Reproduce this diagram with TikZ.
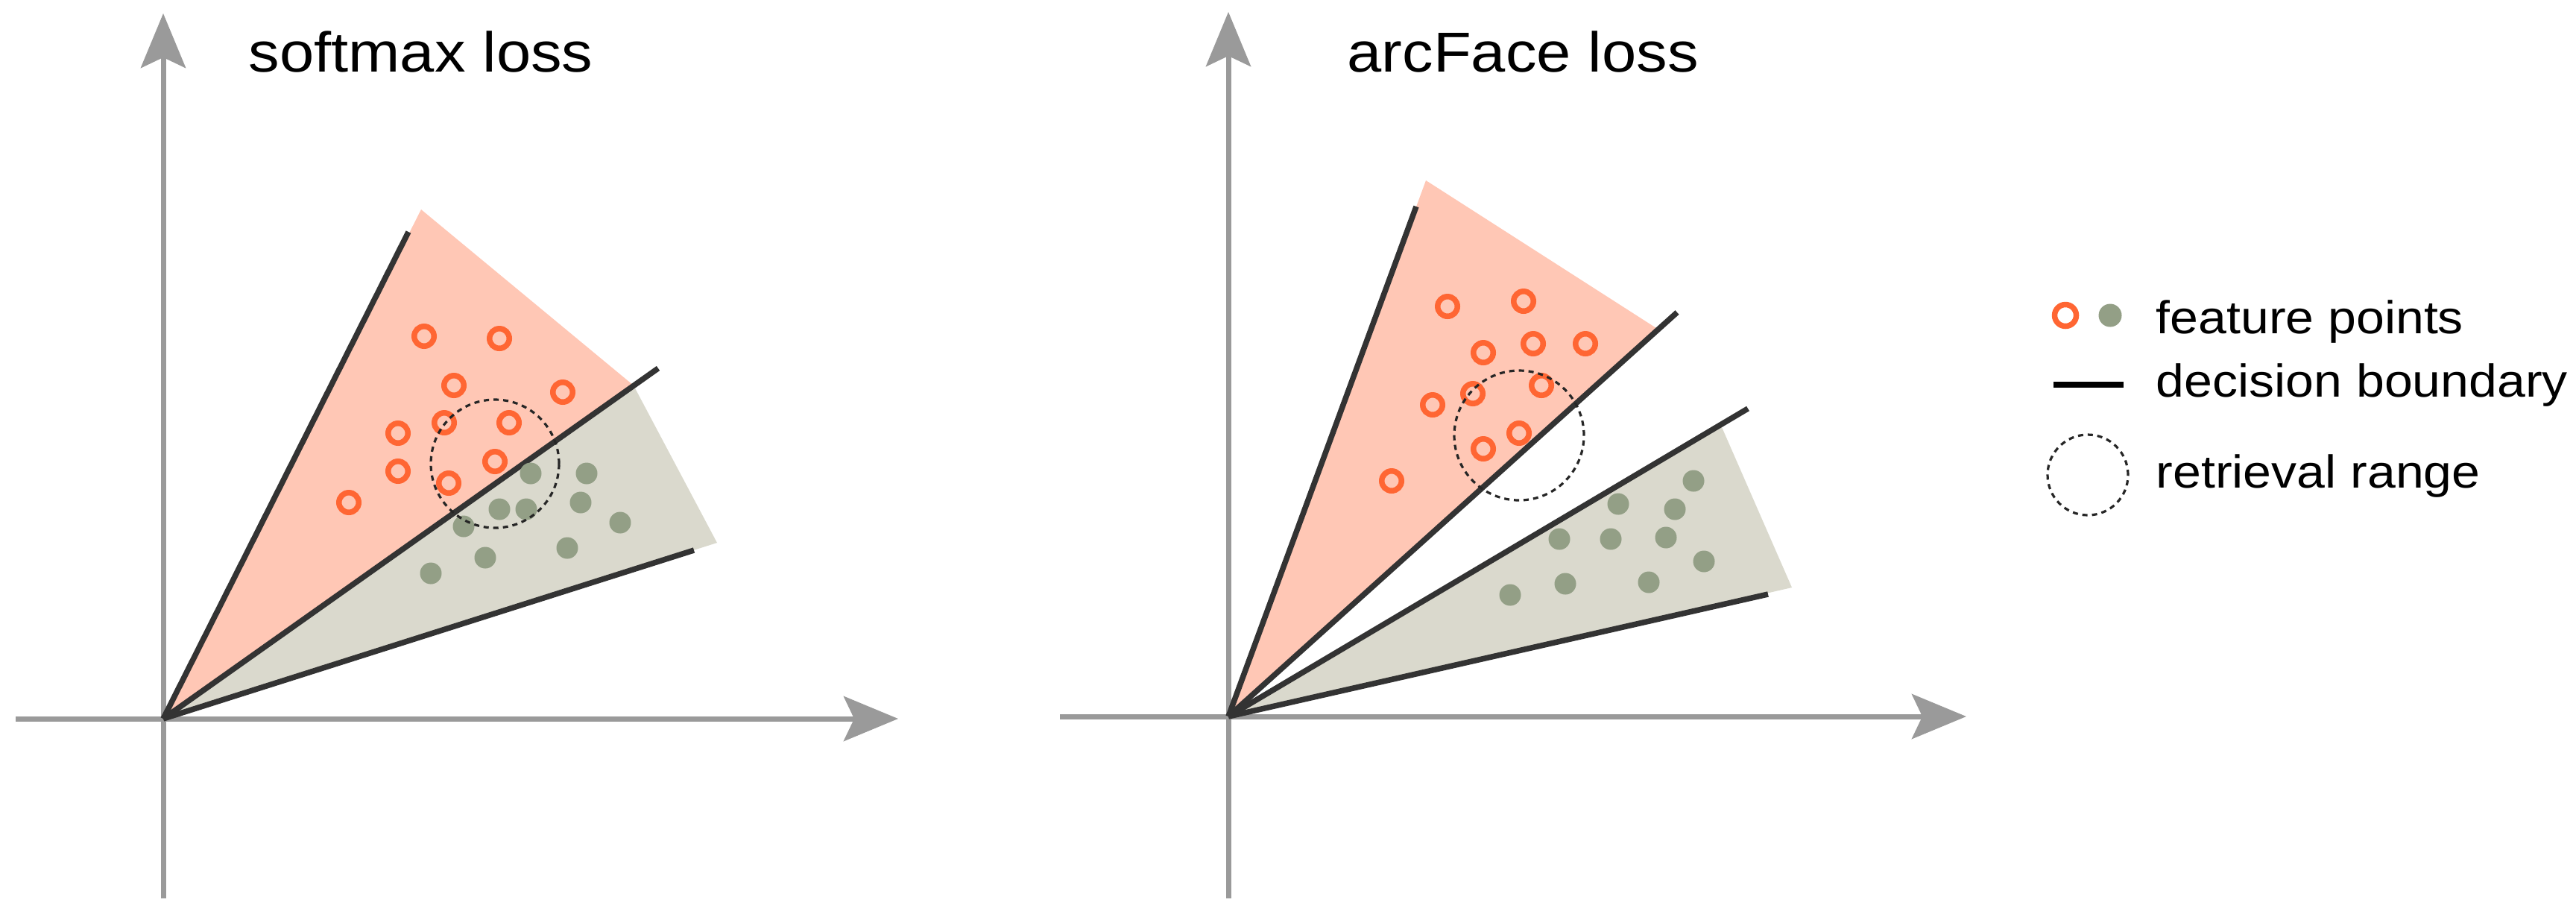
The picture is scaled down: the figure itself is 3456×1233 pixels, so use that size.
\documentclass[tikz,border=0pt]{standalone}
\usepackage{fontspec}
\newfontfamily\labfont{Liberation Sans}[FakeStretch=1.1]
\usetikzlibrary{arrows.meta}
\definecolor{pinkfill}{HTML}{FFC7B5}
\definecolor{grayfill}{HTML}{DAD9CD}
\definecolor{ringcol}{HTML}{FF6633}
\definecolor{dotcol}{HTML}{939F86}
\definecolor{bndcol}{HTML}{333333}
\definecolor{axiscol}{HTML}{9A9A9A}
\tikzset{
  axisline/.style={draw=axiscol, line width=0.7mm, -{Stealth[length=7.3mm, width=6mm, inset=1.4mm]}},
  bnd/.style={draw=bndcol, line width=0.75mm},
  ring/.style={circle, draw=ringcol, line width=0.75mm, minimum size=2.65mm, inner sep=0pt},
  gdot/.style={circle, fill=dotcol, minimum size=2.9mm, inner sep=0pt},
  rangecirc/.style={circle, draw=black!85, line width=0.32mm, dash pattern=on 0.7mm off 0.6mm, inner sep=0pt},
  titletext/.style={inner sep=0pt, anchor=base west, font=\labfont\fontsize{21.5}{26}\selectfont},
  legtext/.style={inner sep=0pt, anchor=base west, font=\labfont\fontsize{17.6}{21}\selectfont},
}
\begin{document}
\begin{tikzpicture}[x=0.1mm, y=-0.1mm]
\useasboundingbox (0,0) rectangle (3456,1233);
% ================= left panel =================
\coordinate (O1) at (219,964);
\coordinate (Y1t) at (219,18);
\coordinate (Y1b) at (219,1205);
\coordinate (X1l) at (21,964);
\coordinate (X1r) at (1205,964);
\coordinate (L1a) at (548,311);
\coordinate (L1b) at (883,494);
\coordinate (L1c) at (931,738);
\coordinate (P1t) at (565,281);
\coordinate (P1r) at (850,517);
\coordinate (G1r) at (962,728);
\draw[axisline] (Y1b) -- (Y1t);
\draw[axisline] (X1l) -- (X1r);
\fill[pinkfill] (O1) -- (P1t) -- (P1r) -- cycle;
\fill[grayfill] (O1) -- (P1r) -- (G1r) -- cycle;
\draw[bnd] (O1) -- (L1a);
\draw[bnd] (O1) -- (L1b);
\draw[bnd] (O1) -- (L1c);
\node[titletext] (t1) at (333,96) {softmax loss};
% orange feature points
\node[ring] (a1) at (569,451) {};
\node[ring] (a2) at (670,454) {};
\node[ring] (a3) at (609,517) {};
\node[ring] (a4) at (755,526) {};
\node[ring] (a5) at (534,581) {};
\node[ring] (a6) at (596,567) {};
\node[ring] (a7) at (683,567) {};
\node[ring] (a8) at (534,632) {};
\node[ring] (a9) at (664,619) {};
\node[ring] (a10) at (602,648) {};
\node[ring] (a11) at (468,674) {};
% gray feature points
\node[gdot] (b1) at (712,635) {};
\node[gdot] (b2) at (787,635) {};
\node[gdot] (b3) at (670,683) {};
\node[gdot] (b4) at (706,683) {};
\node[gdot] (b5) at (779,674) {};
\node[gdot] (b6) at (832,701) {};
\node[gdot] (b7) at (622,706) {};
\node[gdot] (b8) at (651,748) {};
\node[gdot] (b9) at (761,735) {};
\node[gdot] (b10) at (578,769) {};
\node[rangecirc, minimum size=17.2mm] (r1) at (664,622) {};
% ================= right panel =================
\coordinate (O2) at (1648,961);
\coordinate (Y2t) at (1648,16);
\coordinate (Y2b) at (1648,1205);
\coordinate (X2l) at (1422,961);
\coordinate (X2r) at (2638,961);
\coordinate (L2a) at (1900,277);
\coordinate (L2b) at (2250,419);
\coordinate (L2c) at (2345,548);
\coordinate (L2d) at (2372,797);
\coordinate (P2t) at (1913,242);
\coordinate (P2r) at (2222,440);
\coordinate (G2t) at (2310,573);
\coordinate (G2r) at (2404,788);
\draw[axisline] (Y2b) -- (Y2t);
\draw[axisline] (X2l) -- (X2r);
\fill[pinkfill] (O2) -- (P2t) -- (P2r) -- cycle;
\fill[grayfill] (O2) -- (G2t) -- (G2r) -- cycle;
\draw[bnd] (O2) -- (L2a);
\draw[bnd] (O2) -- (L2b);
\draw[bnd] (O2) -- (L2c);
\draw[bnd] (O2) -- (L2d);
\node[titletext] (t2) at (1807,96) {arcFace loss};
\node[ring] (c1) at (1942,411) {};
\node[ring] (c2) at (2044,404) {};
\node[ring] (c3) at (1990,473) {};
\node[ring] (c4) at (2057,461) {};
\node[ring] (c5) at (2127,461) {};
\node[ring] (c6) at (1922,543) {};
\node[ring] (c7) at (1976,528) {};
\node[ring] (c8) at (2068,517) {};
\node[ring] (c9) at (2038,581) {};
\node[ring] (c10) at (1990,602) {};
\node[ring] (c11) at (1867,645) {};
\node[gdot] (d1) at (2272,645) {};
\node[gdot] (d2) at (2171,676) {};
\node[gdot] (d3) at (2247,683) {};
\node[gdot] (d4) at (2092,723) {};
\node[gdot] (d5) at (2161,723) {};
\node[gdot] (d6) at (2235,721) {};
\node[gdot] (d7) at (2286,753) {};
\node[gdot] (d8) at (2026,798) {};
\node[gdot] (d9) at (2100,783) {};
\node[gdot] (d10) at (2212,781) {};
\node[rangecirc, minimum size=17.4mm] (r2) at (2038,584) {};
% ================= legend =================
\node[ring, minimum size=2.9mm, line width=0.75mm] (lg1) at (2771,423) {};
\node[gdot, minimum size=3.1mm] (lg2) at (2831,423) {};
\node[legtext] (lt1) at (2892,447) {feature points};
\coordinate (lgl1) at (2755,516);
\coordinate (lgl2) at (2849,516);
\draw[draw=black, line width=0.75mm] (lgl1) -- (lgl2);
\node[legtext] (lt2) at (2892,532) {decision boundary};
\node[rangecirc, minimum size=10.8mm] (lg3) at (2801,637) {};
\node[legtext] (lt3) at (2892,654) {retrieval range};
\end{tikzpicture}
\end{document}
